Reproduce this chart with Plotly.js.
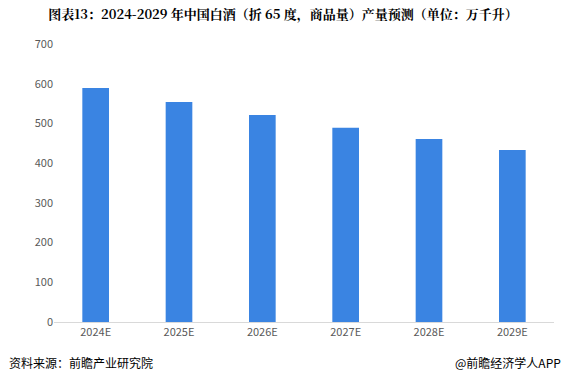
<!DOCTYPE html>
<html><head><meta charset="utf-8">
<script src="https://cdn.plot.ly/plotly-3.0.1.min.js"></script>
<style>html,body{margin:0;padding:0;background:#fff;}#chart{width:566px;height:379px;}</style>
</head><body><div id="chart"></div>
<script>
const categories = ['2024E','2025E','2026E','2027E','2028E','2029E'];
const values = [589, 554, 521, 489, 461, 433];
const yTicks = [0,100,200,300,400,500,600,700];

const trace = {
  type: 'bar', x: categories, y: values,
  marker: {color: '#3A84E2'},
  hoverinfo: 'none'
};
const layout = {
  width: 566, height: 379,
  margin: {l: 54, r: 12, t: 44, b: 57},
  paper_bgcolor: '#fff', plot_bgcolor: '#fff',
  bargap: 0.68,
  showlegend: false,
  title: {text: '<b>图表13：2024-2029 年中国白酒（折 65 度，商品量）产量预测（单位：万千升）</b>',
    font: {family: '"Noto Serif CJK SC","Noto Sans CJK SC", serif', size: 13, color: '#000'},
    x: 0.5, xanchor: 'center', y: 0.962, yanchor: 'middle'},
  xaxis: {showgrid: false, showline: true, linecolor: '#d9d9d9', linewidth: 1,
    tickfont: {family: '"Noto Sans CJK SC", sans-serif', size: 11, color: '#595959'}, ticks: '', fixedrange: true},
  yaxis: {range: [0, 700], tickvals: yTicks, showgrid: false, zeroline: false, showline: false,
    tickfont: {family: '"Noto Sans CJK SC", sans-serif', size: 11, color: '#595959'}, ticks: '', ticklen: 0,
    fixedrange: true},
  annotations: [
    {text: '资料来源：前瞻产业研究院', xref: 'paper', yref: 'paper', x: -0.094, y: -0.145,
     xanchor: 'left', yanchor: 'middle', showarrow: false,
     font: {family: '"Noto Sans CJK SC", sans-serif', size: 12, color: '#000'}},
    {text: '@前瞻经济学人APP', xref: 'paper', yref: 'paper', x: 1.017, y: -0.145,
     xanchor: 'right', yanchor: 'middle', showarrow: false,
     font: {family: '"Noto Sans CJK SC", sans-serif', size: 12, color: '#000'}}
  ]
};
Plotly.newPlot('chart', [trace], layout, {displayModeBar: false, staticPlot: true});
</script></body></html>
